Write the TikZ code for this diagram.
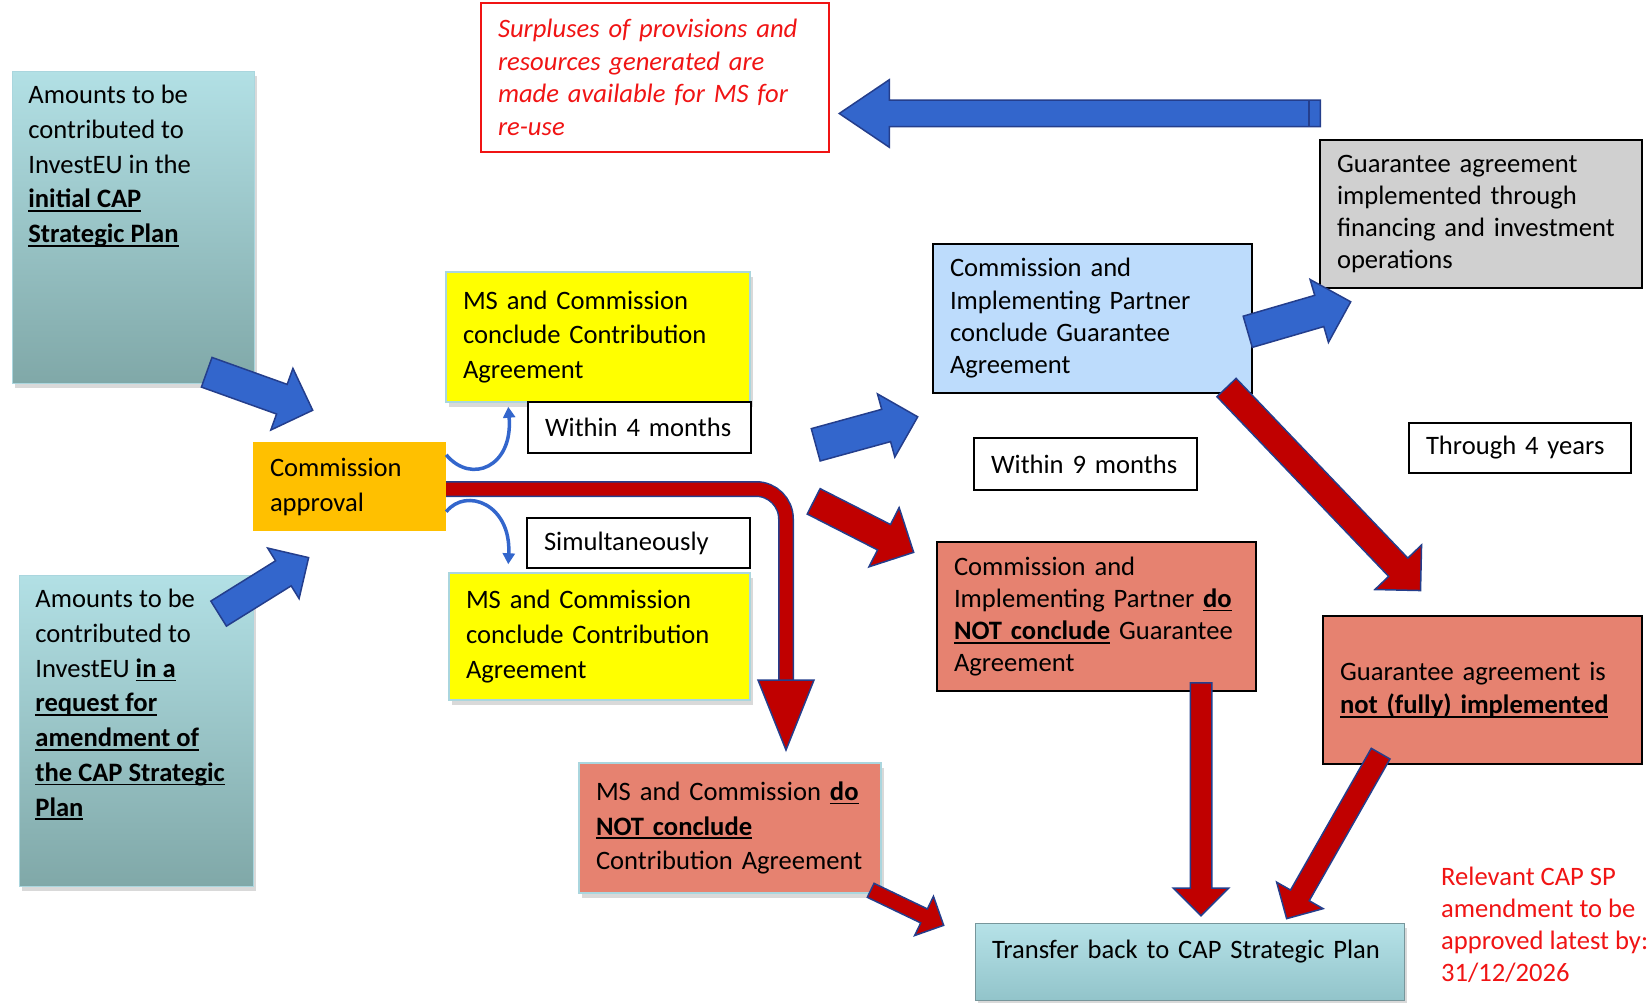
\documentclass[tikz,border=0pt]{standalone}
\usepackage{fontspec}
\setmainfont{Carlito}
\usetikzlibrary{positioning,calc,shapes.arrows,shadows,arrows.meta}

\newsavebox{\undlbox}
\newcommand{\undl}[1]{\leavevmode\sbox{\undlbox}{\textbf{#1}}\rlap{\rule[-4pt]{\wd\undlbox}{1.6pt}}\usebox{\undlbox}}

\definecolor{tealtop}{RGB}{178,224,229}
\definecolor{tealbot}{RGB}{128,168,168}
\definecolor{tealedge}{RGB}{170,214,222}
\definecolor{capyellow}{RGB}{255,255,0}
\definecolor{caporange}{RGB}{255,192,0}
\definecolor{gablue}{RGB}{189,220,252}
\definecolor{implgray}{RGB}{208,208,208}
\definecolor{salmon}{RGB}{230,130,112}
\definecolor{arrblue}{RGB}{51,102,204}
\definecolor{arrnavy}{RGB}{36,62,140}
\definecolor{arrred}{RGB}{192,0,0}
\definecolor{notered}{RGB}{240,20,20}
\definecolor{trtop}{RGB}{182,226,232}
\definecolor{trbot}{RGB}{146,196,202}

\tikzset{
  every node/.style={font=\fontsize{26.6}{33}\selectfont},
  boxshadow/.style={drop shadow={shadow xshift=3pt, shadow yshift=-5pt, opacity=0.3}},
  box/.style={rectangle, align=left, inner xsep=17pt, inner ysep=0pt},
  wide/.style={font=\fontsize{26.6}{34.6}\selectfont},
  tight/.style={font=\fontsize{26.6}{32.3}\selectfont},
  tealbox/.style={rectangle, anchor=north west, inner xsep=16pt, inner ysep=14pt,
    top color=tealtop, bottom color=tealbot, draw=tealedge, line width=0.8pt,
    font=\fontsize{26.6}{34.7}\selectfont, boxshadow},
  yellowbox/.style={box, wide, fill=capyellow, draw=tealedge, line width=1.5pt, boxshadow},
  notebox/.style={box, draw=black, line width=2pt, fill=white},
  bigarrow/.style={single arrow, inner xsep=0pt, line width=1.5pt, anchor=tail},
  bluefill/.style={fill=arrblue, draw=arrnavy},
  redfill/.style={fill=arrred, draw=arrnavy, line width=1.5pt},
  curvearrow/.style={arrblue, line width=3.5pt, -{Triangle[length=11pt,width=12pt]}},
  bentpipe/.style={draw=arrnavy, line width=1.5pt, double=arrred, double distance=13pt, rounded corners=30pt}
}

\begin{document}
\begin{tikzpicture}[x=1pt, y=-1pt]
  \useasboundingbox (0,0) rectangle (1652,1003);

  % boxes
  \node[tealbox] (plan1) at (12,71) {\parbox[c][284pt][t]{210pt}{\raggedright Amounts to be\\contributed to\\InvestEU in the\\\undl{initial CAP}\\\undl{Strategic Plan}}};
  \node[tealbox] (plan2) at (19,575) {\parbox[c][283pt][t]{202pt}{\raggedright Amounts to be\\contributed to\\InvestEU \undl{in a}\\\undl{request for}\\\undl{amendment of}\\\undl{the CAP Strategic}\\\undl{Plan}}};
  \node[box, fill=caporange, minimum width=193pt, minimum height=89pt, text width=159pt, font=\fontsize{26.6}{35}\selectfont] (approval) at (349.5,486.5) {Commission\\approval};
  \node[yellowbox, minimum width=304pt, minimum height=130pt, text width=270pt] (ca1) at (598,337) {MS and Commission\\conclude Contribution\\Agreement};
  \node[notebox, minimum width=223pt, minimum height=51pt, text width=189pt] (within4) at (639.5,427.5) {Within 4 months};
  \node[notebox, minimum width=223pt, minimum height=50pt, text width=189pt] (simul) at (638.5,543) {Simultaneously};
  \node[yellowbox, minimum width=301pt, minimum height=127pt, text width=267pt] (ca2) at (599.5,636.5) {MS and Commission\\conclude Contribution\\Agreement};
  \node[box, wide, fill=salmon, draw=tealedge, line width=1.5pt, boxshadow, minimum width=302pt, minimum height=130pt, text width=268pt] (noca) at (730,828) {MS and Commission \undl{do}\\\undl{NOT conclude}\\Contribution Agreement};
  \node[box, fill=gablue, draw=black, line width=2pt, minimum width=319pt, minimum height=149pt, text width=285pt, tight] (ga) at (1092.5,318.5) {Commission and\\Implementing Partner\\conclude Guarantee\\Agreement};
  \node[notebox, minimum width=223pt, minimum height=52pt, text width=189pt] (within9) at (1085.5,464) {Within 9 months};
  \node[box, fill=implgray, draw=black, line width=2pt, minimum width=322pt, minimum height=148pt, text width=288pt, tight] (impl) at (1481,214) {Guarantee agreement\\implemented through\\financing and investment\\operations};
  \node[notebox, minimum width=222pt, minimum height=50pt, text width=188pt] (through4) at (1520,448) {Through 4 years};
  \node[box, fill=salmon, draw=black, line width=2pt, minimum width=319pt, minimum height=149pt, text width=285pt, tight] (noga) at (1096.5,616.5) {Commission and\\Implementing Partner \undl{do}\\\undl{NOT conclude} Guarantee\\Agreement};
  \node[box, fill=salmon, draw=black, line width=2pt, minimum width=319pt, minimum height=148pt, text width=285pt] (notimpl) at (1482.5,690) {Guarantee agreement is\\\undl{not (fully) implemented}};
  \node[box, top color=trtop, bottom color=trbot, draw=tealedge!70!black, line width=1pt, boxshadow, minimum width=429pt, minimum height=77pt, text width=395pt, text height=10pt, text depth=17pt] (transfer) at (1189.5,961.5) {Transfer back to CAP Strategic Plan};
  \node[box, draw=notered, line width=2pt, text=notered, font=\fontsize{26.6}{32.7}\selectfont\itshape, minimum width=348pt, minimum height=149pt, text width=314pt] (surplus) at (655,77.5) {Surpluses of provisions and\\resources generated are\\made available for MS for\\re-use};
  \node[anchor=west, inner sep=0pt, align=left, text=notered, font=\fontsize{26.6}{32}\selectfont] (deadline) at (1441,925) {Relevant CAP SP\\amendment to be\\approved latest by:\\31/12/2026};

  % arrow ends
  \coordinate (b1t) at (206,372);   \coordinate (b1h) at (312,410);
  \coordinate (b2t) at (218,614);   \coordinate (b2h) at (308,558);
  \coordinate (b3t) at (815,445);   \coordinate (b3h) at (917,417);
  \coordinate (b4t) at (1247,332);  \coordinate (b4h) at (1350,302);
  \coordinate (b5t) at (1321,113.5);\coordinate (b5h) at (840,113.5);
  \coordinate (r1t) at (813,501);   \coordinate (r1h) at (913,552);
  \coordinate (r2t) at (1226,387);  \coordinate (r2h) at (1420,590);
  \coordinate (r3t) at (1201,682);  \coordinate (r3h) at (1201,915);
  \coordinate (r4t) at (1381,753);  \coordinate (r4h) at (1287,918);
  \coordinate (r5t) at (870,890);   \coordinate (r5h) at (943,925);
  \coordinate (bendtip) at (786,680);

  % bent arrow
  \draw[bentpipe] ([yshift=-2.5pt]approval.east) -| (bendtip);
  \draw[redfill] ($(bendtip)+(-28,0)$) -- ($(bendtip)+(28,0)$) -- ($(bendtip)+(0,70)$) -- cycle;

  % block arrows: half shaft / head extend
  \foreach \src/\dst/\hs/\ext/\tip in {b1t/b1h/15/17/90, b2t/b2h/14/15/90, b3t/b3h/16/16/90, b4t/b4h/15.5/16.5/90, b5t/b5h/12.5/20.5/68}
    \path let \p1=($(\dst)-(\src)$) in node[bigarrow, bluefill, inner ysep=\hs pt, single arrow head extend=\ext pt, single arrow tip angle=\tip, rotate={atan2(\y1,\x1)}, minimum height={veclen(\x1,\y1)}] at (\src) {};
  \foreach \src/\dst/\hs/\ext/\tip in {r1t/r1h/13.5/19/90, r2t/r2h/12.5/19/90, r3t/r3h/10/17/90, r4t/r4h/10/16/90, r5t/r5h/7/14/90}
    \path let \p1=($(\dst)-(\src)$) in node[bigarrow, redfill, inner ysep=\hs pt, single arrow head extend=\ext pt, single arrow tip angle=\tip, rotate={atan2(\y1,\x1)}, minimum height={veclen(\x1,\y1)}] at (\src) {};
  \draw[arrnavy, line width=1.5pt] ($(b5t)+(-12,-12.5)$) -- ($(b5t)+(-12,12.5)$);

  % curved arrows
  \draw[curvearrow] ($(approval.north east)+(0,13)$) .. controls +(25,30) and +(5,60) .. ($(ca1.south west)+(63,4)$);
  \draw[curvearrow] ($(approval.north east)+(0,70)$) .. controls +(20,-25) and +(3,-60) .. ($(ca2.north west)+(60,-8)$);
\end{tikzpicture}
\end{document}
